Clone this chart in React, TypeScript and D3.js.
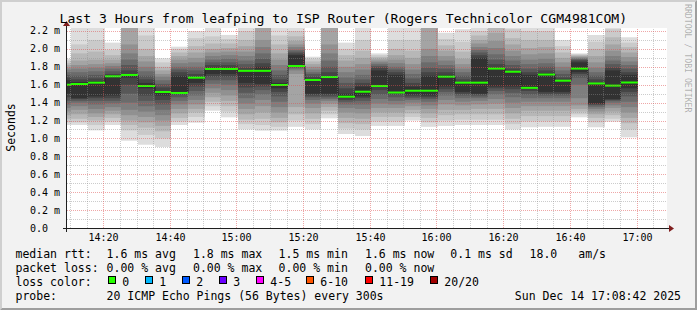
import React from 'react';
import * as d3 from 'd3';

// ---------- data ----------
const chartTitle = 'Last 3 Hours from leafping to ISP Router (Rogers Technicolor CGM4981COM)';
const yAxisTitle = 'Seconds';
const watermark = 'RRDTOOL / TOBI OETIKER';
const rangeStart = '14:08:42';
const rangeEnd = '17:08:42';
const stepMinutes = 5;

// end time of each 5-minute sample
const sampleEnds = [
  '14:10', '14:15', '14:20', '14:25', '14:30', '14:35', '14:40', '14:45', '14:50', '14:55',
  '15:00', '15:05', '15:10', '15:15', '15:20', '15:25', '15:30', '15:35', '15:40', '15:45',
  '15:50', '15:55', '16:00', '16:05', '16:10', '16:15', '16:20', '16:25', '16:30', '16:35',
  '16:40', '16:45', '16:50', '16:55', '17:00',
];

// median rtt per sample (ms)
const medians = [
  1.600, 1.608, 1.623, 1.694, 1.709, 1.586, 1.519, 1.508, 1.679, 1.776,
  1.776, 1.755, 1.755, 1.597, 1.809, 1.653, 1.686, 1.466, 1.522, 1.586,
  1.513, 1.533, 1.533, 1.690, 1.623, 1.623, 1.780, 1.745, 1.565, 1.714,
  1.645, 1.780, 1.614, 1.590, 1.625,
];

// 20 sorted ping rtts per sample (ms)
const pings = [
  [1.15, 1.18, 1.22, 1.26, 1.30, 1.34, 1.38, 1.42, 1.46, 1.50, 1.65, 1.68, 1.71, 1.74, 1.77, 1.79, 1.82, 1.84, 1.87, 1.89],
  [1.15, 1.18, 1.22, 1.27, 1.32, 1.36, 1.40, 1.42, 1.44, 1.45, 1.63, 1.66, 1.70, 1.74, 1.78, 1.82, 1.87, 1.95, 2.05, 2.30],
  [1.09, 1.15, 1.20, 1.24, 1.28, 1.33, 1.38, 1.42, 1.45, 1.47, 1.64, 1.67, 1.71, 1.75, 1.79, 1.83, 1.88, 1.97, 2.10, 2.35],
  [1.15, 1.19, 1.23, 1.27, 1.31, 1.35, 1.39, 1.42, 1.45, 1.48, 1.70, 1.72, 1.75, 1.78, 1.81, 1.84, 1.88, 1.93, 1.99, 2.07],
  [0.975, 1.09, 1.15, 1.20, 1.26, 1.32, 1.40, 1.50, 1.60, 1.68, 1.72, 1.76, 1.82, 1.88, 1.95, 2.05, 2.28, 2.35, 2.45, 2.60],
  [0.93, 1.04, 1.12, 1.18, 1.24, 1.30, 1.36, 1.42, 1.48, 1.56, 1.62, 1.66, 1.70, 1.75, 1.80, 1.86, 1.92, 2.00, 2.15, 2.30],
  [0.905, 1.00, 1.08, 1.14, 1.20, 1.26, 1.32, 1.38, 1.43, 1.48, 1.53, 1.57, 1.61, 1.65, 1.69, 1.72, 1.76, 1.80, 1.85, 1.895],
  [1.15, 1.19, 1.23, 1.28, 1.33, 1.38, 1.42, 1.46, 1.49, 1.51, 1.70, 1.74, 1.77, 1.80, 1.84, 1.88, 1.92, 1.96, 2.00, 2.025],
  [1.176, 1.24, 1.29, 1.33, 1.38, 1.43, 1.48, 1.53, 1.58, 1.62, 1.69, 1.72, 1.76, 1.80, 1.85, 1.90, 1.96, 2.03, 2.12, 2.20],
  [1.31, 1.36, 1.41, 1.46, 1.51, 1.56, 1.61, 1.65, 1.69, 1.72, 1.79, 1.82, 1.85, 1.88, 1.92, 1.96, 2.00, 2.06, 2.14, 2.30],
  [1.236, 1.30, 1.36, 1.42, 1.48, 1.54, 1.60, 1.65, 1.69, 1.72, 1.79, 1.82, 1.85, 1.89, 1.93, 1.97, 2.01, 2.06, 2.11, 2.156],
  [1.10, 1.16, 1.21, 1.27, 1.33, 1.39, 1.45, 1.51, 1.57, 1.62, 1.76, 1.79, 1.83, 1.87, 1.92, 1.97, 2.03, 2.10, 2.20, 2.30],
  [1.087, 1.15, 1.22, 1.29, 1.36, 1.43, 1.49, 1.54, 1.58, 1.61, 1.80, 1.84, 1.89, 1.95, 2.02, 2.10, 2.26, 2.35, 2.45, 2.60],
  [1.087, 1.13, 1.18, 1.23, 1.29, 1.35, 1.41, 1.47, 1.52, 1.56, 1.62, 1.66, 1.71, 1.76, 1.82, 1.88, 1.95, 2.05, 2.15, 2.30],
  [1.13, 1.20, 1.27, 1.35, 1.72, 1.76, 1.78, 1.79, 1.80, 1.81, 1.93, 1.95, 1.97, 1.99, 2.02, 2.05, 2.09, 2.14, 2.20, 2.30],
  [1.10, 1.16, 1.22, 1.28, 1.34, 1.39, 1.43, 1.46, 1.48, 1.50, 1.66, 1.69, 1.72, 1.74, 1.77, 1.80, 1.83, 1.86, 1.89, 1.913],
  [1.225, 1.27, 1.31, 1.35, 1.39, 1.42, 1.44, 1.46, 1.48, 1.50, 1.69, 1.74, 1.80, 1.87, 1.95, 2.05, 2.26, 2.35, 2.45, 2.60],
  [1.05, 1.11, 1.17, 1.23, 1.29, 1.34, 1.38, 1.41, 1.43, 1.45, 1.50, 1.56, 1.62, 1.68, 1.74, 1.80, 1.87, 1.93, 2.00, 2.07],
  [1.027, 1.10, 1.16, 1.22, 1.28, 1.33, 1.38, 1.42, 1.45, 1.47, 1.58, 1.62, 1.66, 1.71, 1.77, 1.83, 1.90, 1.98, 2.10, 2.30],
  [1.14, 1.19, 1.24, 1.29, 1.34, 1.39, 1.44, 1.49, 1.54, 1.58, 1.76, 1.79, 1.81, 1.83, 1.85, 1.87, 1.89, 1.91, 1.93, 1.95],
  [1.14, 1.19, 1.24, 1.29, 1.34, 1.38, 1.42, 1.46, 1.49, 1.51, 1.71, 1.74, 1.77, 1.80, 1.84, 1.88, 1.93, 2.00, 2.10, 2.30],
  [1.20, 1.24, 1.28, 1.32, 1.36, 1.40, 1.43, 1.45, 1.47, 1.49, 1.58, 1.62, 1.67, 1.72, 1.77, 1.83, 1.90, 1.98, 2.10, 2.30],
  [1.13, 1.18, 1.23, 1.28, 1.33, 1.37, 1.41, 1.44, 1.46, 1.48, 1.70, 1.74, 1.79, 1.85, 1.92, 2.00, 2.26, 2.35, 2.45, 2.60],
  [1.14, 1.20, 1.26, 1.32, 1.38, 1.43, 1.48, 1.52, 1.55, 1.58, 1.71, 1.74, 1.78, 1.82, 1.87, 1.92, 1.98, 2.04, 2.11, 2.18],
  [1.15, 1.21, 1.27, 1.32, 1.37, 1.41, 1.45, 1.48, 1.50, 1.52, 1.63, 1.66, 1.70, 1.74, 1.78, 1.83, 1.89, 1.97, 2.08, 2.22],
  [1.15, 1.21, 1.27, 1.33, 1.38, 1.42, 1.45, 1.47, 1.49, 1.50, 1.90, 1.93, 1.96, 1.99, 2.02, 2.06, 2.10, 2.15, 2.20, 2.30],
  [1.15, 1.21, 1.27, 1.33, 1.39, 1.44, 1.49, 1.53, 1.56, 1.58, 1.79, 1.83, 1.88, 1.94, 2.01, 2.09, 2.18, 2.27, 2.40, 2.55],
  [1.10, 1.16, 1.22, 1.28, 1.34, 1.40, 1.46, 1.51, 1.55, 1.58, 1.75, 1.78, 1.82, 1.87, 1.92, 1.98, 2.05, 2.12, 2.22, 2.35],
  [1.125, 1.19, 1.25, 1.31, 1.36, 1.41, 1.45, 1.49, 1.53, 1.56, 1.71, 1.74, 1.78, 1.83, 1.88, 1.94, 2.01, 2.10, 2.20, 2.30],
  [1.13, 1.19, 1.25, 1.31, 1.36, 1.41, 1.45, 1.48, 1.50, 1.52, 1.73, 1.76, 1.80, 1.84, 1.89, 1.95, 2.02, 2.10, 2.20, 2.30],
  [1.13, 1.19, 1.25, 1.31, 1.36, 1.41, 1.45, 1.48, 1.50, 1.52, 1.65, 1.68, 1.72, 1.76, 1.80, 1.85, 1.90, 1.96, 2.03, 2.10],
  [1.236, 1.27, 1.30, 1.33, 1.37, 1.45, 1.60, 1.68, 1.72, 1.74, 1.85, 1.87, 1.88, 1.89, 1.90, 1.91, 1.92, 1.93, 1.94, 1.95],
  [1.125, 1.18, 1.23, 1.27, 1.30, 1.33, 1.35, 1.37, 1.38, 1.39, 1.62, 1.66, 1.70, 1.74, 1.79, 1.85, 1.92, 2.00, 2.08, 2.155],
  [1.187, 1.22, 1.26, 1.30, 1.34, 1.37, 1.40, 1.42, 1.43, 1.44, 1.76, 1.79, 1.83, 1.87, 1.92, 1.98, 2.05, 2.13, 2.22, 2.35],
  [1.013, 1.10, 1.17, 1.23, 1.29, 1.35, 1.41, 1.47, 1.52, 1.56, 1.71, 1.74, 1.78, 1.82, 1.86, 1.91, 1.96, 2.02, 2.07, 2.13],
];

const yTickValues = [0, 0.2, 0.4, 0.6, 0.8, 1.0, 1.2, 1.4, 1.6, 1.8, 2.0, 2.2];
const yTickLabels = ['0.0', '0.2 m', '0.4 m', '0.6 m', '0.8 m', '1.0 m', '1.2 m', '1.4 m', '1.6 m', '1.8 m', '2.0 m', '2.2 m'];
const yMinorValues = [0.1, 0.3, 0.5, 0.7, 0.9, 1.1, 1.3, 1.5, 1.7, 1.9, 2.1];
const yTopValue = 2.2335;

const rttStats = ['1.6 ms avg', '1.8 ms max', '1.5 ms min', '1.6 ms now', '0.1 ms sd', '18.0', 'am/s'];
const lossStats = ['0.00 % avg', '0.00 % max', '0.00 % min', '0.00 % now'];
const lossLabels = ['0', '1', '2', '3', '4-5', '6-10', '11-19', '20/20'];
const lossColors = ['#26ff00', '#00b8ff', '#0059ff', '#6a00ff', '#ff00ff', '#ff5500', '#ff0000', '#a10000'];
const probeText = '20 ICMP Echo Pings (56 Bytes) every 300s';
const stampText = 'Sun Dec 14 17:08:42 2025';

// ---------- layout ----------
const W = 697;
const H = 310;
const X0 = 67;
const X1 = 667;
const Y0 = 228;
const Y1 = 28;
const FONT = "'DejaVu Sans Mono', monospace";
const statCols = [106.6, 193, 278.6, 365, 450.3, 529.6, 578.3];
const lossBoxX = [108, 145, 182, 219, 256, 306, 365, 430];
const ROW = [257.5, 271.5, 285.5, 299.5];

const toDate = (s: string) => {
  const [h, m, sec] = s.split(':').map(Number);
  return new Date(2025, 11, 14, h, m, sec || 0);
};

export default function App() {
  const x = d3.scaleTime().domain([toDate(rangeStart), toDate(rangeEnd)]).range([X0, X1]);
  const y = d3.scaleLinear().domain([0, yTopValue]).range([Y0, Y1]);

  const bars = sampleEnds.map((s, i) => {
    const t1 = toDate(s);
    const t0 = d3.timeMinute.offset(t1, -stepMinutes);
    const xa = Math.max(X0, Math.round(x(t0)));
    const xb = Math.round(x(t1));
    return { xa, xb, p: pings[i], m: medians[i] };
  });

  const half = 10;
  const smoke: JSX.Element[] = [];
  bars.forEach((b, bi) => {
    for (let j = 0; j < half; j++) {
      const g = Math.floor((190 / half) * (half - (j + 1))) + 50;
      const top = y(b.p[19 - j]);
      const bot = y(b.p[j]);
      smoke.push(
        <rect key={`s${bi}-${j}`} x={b.xa} width={b.xb - b.xa} y={top} height={Math.max(0, bot - top)}
          fill={d3.rgb(g, g, g).formatHex()} />
      );
    }
  });

  // dark median step line
  let stepPath = '';
  bars.forEach((b, i) => {
    const ym = y(b.m);
    stepPath += (i === 0 ? `M${b.xa},${ym}` : `L${b.xa},${ym}`) + `L${b.xb},${ym}`;
  });

  const t0 = toDate(rangeStart);
  const t1 = toDate(rangeEnd);
  const minorTimes = d3.timeMinute.every(5)!.range(t0, t1).filter((t) => t.getMinutes() % 20 !== 0);
  const majorTimes = d3.timeMinute.every(20)!.range(t0, t1);
  const gx = (t: Date) => Math.floor(x(t)) - 0.5;
  const gy = (v: number) => Math.round(y(v)) + 0.5;

  const minorCol = 'rgba(143,143,143,0.45)';
  const majorCol = 'rgba(222,79,79,0.5)';

  return (
    <svg width={W} height={H} style={{ position: 'absolute', left: 0, top: 0 }} xmlns="http://www.w3.org/2000/svg">
      <defs>
        <clipPath id="plot">
          <rect x={X0} y={Y1} width={X1 - X0} height={Y0 - Y1} />
        </clipPath>
      </defs>
      <rect x={0} y={0} width={W} height={H} fill="#f2f2f2" />
      {/* 3d frame */}
      <path d={`M0,${H}L2,${H - 2}L2,2L${W - 2},2L${W},0L0,0Z`} fill="#cfcfcf" />
      <path d={`M2,${H - 2}L${W - 2},${H - 2}L${W - 2},2L${W},0L${W},${H}L0,${H}Z`} fill="#9e9e9e" />
      <rect x={X0} y={Y1} width={X1 - X0} height={Y0 - Y1} fill="#ffffff" />

      <g clipPath="url(#plot)">
        {smoke}
        <path d={stepPath} fill="none" stroke="#202020" strokeWidth={1} />
        {bars.map((b, i) => (
          <rect key={`m${i}`} x={b.xa} width={b.xb - b.xa} y={y(b.m) - 1} height={2} fill={lossColors[0]} />
        ))}
      </g>

      {/* grid */}
      <g shapeRendering="crispEdges">
        {minorTimes.map((t, i) => (
          <line key={`vx${i}`} x1={gx(t)} x2={gx(t)} y1={Y0} y2={Y1} stroke={minorCol} strokeDasharray="1,1" />
        ))}
        {yMinorValues.map((v, i) => (
          <line key={`hy${i}`} x1={X0} x2={X1} y1={gy(v)} y2={gy(v)} stroke={minorCol} strokeDasharray="1,1" />
        ))}
        {majorTimes.map((t, i) => (
          <line key={`VX${i}`} x1={gx(t)} x2={gx(t)} y1={Y0} y2={Y1} stroke={majorCol} strokeDasharray="1,1" />
        ))}
        {yTickValues.slice(1).map((v, i) => (
          <line key={`HY${i}`} x1={X0} x2={X1} y1={gy(v)} y2={gy(v)} stroke={majorCol} strokeDasharray="1,1" />
        ))}
        {/* axes */}
        <line x1={X0 - 4} x2={X1 + 4} y1={Y0 + 0.5} y2={Y0 + 0.5} stroke="#1f1f1f" />
        <line x1={X0 - 0.5} x2={X0 - 0.5} y1={Y0 + 4} y2={Y1 - 4} stroke="#1f1f1f" />
      </g>
      <path d={`M${X1 + 2},${Y0 + 0.5 - 3.5}L${X1 + 2},${Y0 + 0.5 + 3.5}L${X1 + 7},${Y0 + 0.5}Z`} fill="#801f1f" />
      <path d={`M${X0 - 0.5 - 3.5},${Y1 - 2}L${X0 - 0.5 + 3.5},${Y1 - 2}L${X0 - 0.5},${Y1 - 7}Z`} fill="#801f1f" />

      {/* axis labels */}
      <g fontFamily={FONT} fontSize={10} fill="#000">
        {yTickValues.map((v, i) => (
          <text key={`yl${i}`} x={30} y={y(v) + 3.5}>{yTickLabels[i]}</text>
        ))}
        {majorTimes.map((t, i) => (
          <text key={`xl${i}`} x={gx(t)} y={240.5} textAnchor="middle">{d3.timeFormat('%H:%M')(t)}</text>
        ))}
      </g>

      <text x={59.5} y={23} fontFamily={FONT} fontSize={13.1} fill="#000">{chartTitle}</text>
      <text transform="translate(15,127.5) rotate(-90)" fontFamily={FONT} fontSize={11.5} textAnchor="middle" fill="#000">{yAxisTitle}</text>
      <text transform="translate(684.5,4) rotate(90)" fontFamily={FONT} fontSize={8.2} fill="#000" fillOpacity={0.3}>{watermark}</text>

      {/* legend */}
      <g fontFamily={FONT} fontSize={11.5} fill="#000">
        <text x={15.5} y={ROW[0]}>median rtt:</text>
        {rttStats.map((s, i) => (
          <text key={`r${i}`} x={statCols[i]} y={ROW[0]}>{s}</text>
        ))}
        <text x={15.5} y={ROW[1]}>packet loss:</text>
        {lossStats.map((s, i) => (
          <text key={`l${i}`} x={statCols[i]} y={ROW[1]}>{s}</text>
        ))}
        <text x={15.5} y={ROW[2]}>loss color:</text>
        {lossLabels.map((s, i) => (
          <g key={`c${i}`}>
            <rect x={lossBoxX[i] + 0.5} y={276.5} width={7} height={7} fill={lossColors[i]} stroke="#000" strokeWidth={1} />
            <text x={lossBoxX[i] + 14.3} y={ROW[2]}>{s}</text>
          </g>
        ))}
        <text x={15.5} y={ROW[3]}>probe:</text>
        <text x={statCols[0]} y={ROW[3]}>{probeText}</text>
        <text x={681} y={ROW[3]} textAnchor="end">{stampText}</text>
      </g>
    </svg>
  );
}
